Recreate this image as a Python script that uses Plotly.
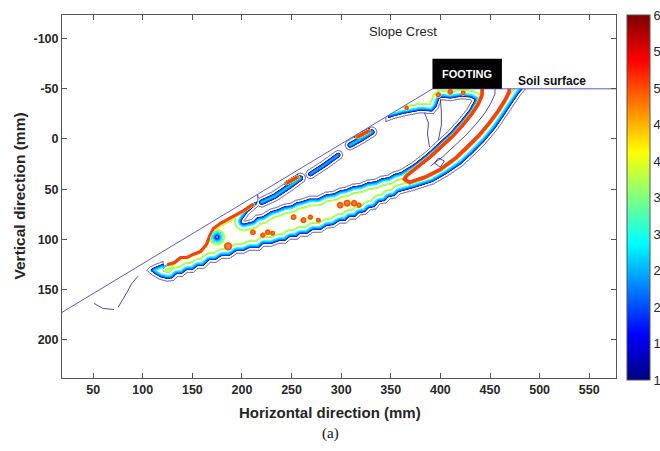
import numpy as np
import plotly.graph_objects as go

# ---------------------------------------------------------------
# Model geometry (mm)
# ---------------------------------------------------------------
ground_x = [10, 392, 590]          # slope face -> crest -> surface
ground_y = [178, -50, -50]
footing_x = [392, 462]
footing_y = [-80, -50]

x_range = [18.6, 577.0]
y_range = [238.3, -123.6]
x_ticks = [50, 100, 150, 200, 250, 300, 350, 400, 450, 500, 550]
y_ticks = [-100, -50, 0, 50, 100, 150, 200]
cbar_ticks = [1.0, 1.5, 2.0, 2.5, 3.0, 3.5, 4.0, 4.5, 5.0, 5.5, 6.0]

# strain level against depth (mm) inside the edge of a localised zone
edge_depth = [-0.6, 0.0, 3.0, 3.4, 5.6, 9.0, 9.3, 9.8, 13.0]
edge_level = [0.0, 1.02, 1.2, 2.3, 3.05, 3.2, 3.95, 4.1, 4.2]

# main shear band, toe to footing edge (outline)
main_band_x = [104, 110, 117, 125, 131, 135, 140, 145, 151, 156, 162, 168, 174, 180,
               188, 195, 202, 208, 218, 222, 230, 238, 244, 249, 256, 259, 266, 272,
               280, 286, 293, 299, 305, 309, 315, 319, 325, 329, 335, 339, 345, 349,
               355, 359, 374, 393, 407, 422, 434, 446, 457, 466, 474, 481, 486, 490,
               434, 434, 432, 427, 418, 408, 397, 385, 372, 359, 352, 347, 340, 334,
               326, 319, 311, 304, 298, 292, 284, 276, 268, 259, 254, 249, 242, 235,
               228, 220, 214, 210, 202, 207, 214, 218, 216, 150, 128, 123, 115, 108]
main_band_y = [131, 136, 140, 142, 141, 137, 137, 133, 133, 129, 129, 123, 123, 119,
               119, 114, 114, 111, 111, 107, 107, 104, 104, 100, 100, 97, 97, 93,
               93, 89, 88, 84, 84, 80, 80, 76, 75, 71, 70, 65, 64, 60,
               59, 55, 51, 45, 37, 27, 16, 4, -9, -22, -34, -44, -50, -66,
               -66, -50, -39, -30, -19, -8, 2, 13, 23, 31, 33, 36, 37, 40,
               41, 44, 45, 48, 49, 52, 53, 57, 57, 60, 61, 64, 65, 68,
               70, 75, 76, 80, 82, 75, 69, 65, 56, 92, 110, 121, 124, 127]

# band under the crest and the footing (outline)
crest_band_x = [345, 352, 364, 380, 393, 398, 401, 410, 422, 430, 436, 448, 452, 343]
crest_band_y = [-17, -20, -23, -26, -25, -31, -39, -38, -40, -39, -36, -29, -70, -70]

# short bands under the slope face (centrelines and half widths)
face1_x, face1_y = [220, 233, 248, 259], [63, 57, 47, 39]
face2_x, face2_y = [269, 283, 297], [35, 26, 16]
face3_x, face3_y = [309, 320, 331], [6, 0, -7]
face_hw = [5.0, 4.6, 5.0]

# peak strain lines
toe_red_x = [125, 132, 138, 144, 150, 158, 164, 167, 171, 178, 191, 202, 211]
toe_red_y = [125, 123, 118, 118, 115, 112, 105, 97, 89, 84, 77, 71, 65]
valley_x = [444, 442, 438, 432, 423, 413, 402, 390, 376, 366, 364, 369, 384, 400,
            415, 427, 438, 449, 458, 465, 469, 470]
valley_y = [-66, -43, -34, -25, -14, -3, 7, 18, 29, 37, 40, 43, 38, 30,
            19, 8, -3, -16, -28, -39, -47, -66]
face_red1_x, face_red1_y = [245, 256], [44, 38]
face_red2_x, face_red2_y = [316, 328], [-2, -8]
red_line_w = [1.3, 1.6, 1.3, 1.3]

# isolated peak spots (centre and radius, mm)
spot_x = [186, 211, 221, 226, 231, 252, 262, 269, 277, 299, 306, 313, 318, 366, 398, 410, 423]
spot_y = [107, 93, 96, 93, 94, 78, 81, 78, 81, 66, 64, 64, 66, -31, -44, -47, -46]
spot_r = [3.4, 2.2, 2.0, 2.2, 1.8, 2.2, 2.4, 2.0, 1.8, 2.6, 2.8, 2.6, 2.0, 1.6, 2.0, 2.2, 1.8]

# unloaded pocket above the toe zigzag
toe_cap_x = [121, 125, 132, 138, 144, 150, 158, 164, 167, 171, 178, 191, 202, 211, 216, 214, 121]
toe_cap_y = [128, 125, 123, 118, 118, 115, 112, 105, 97, 89, 84, 77, 71, 65, 62, 45, 100]
valley_floor = 1.12

# crater inside the band near the toe
ring_x, ring_y = 175, 98
ring_r = [0.0, 1.2, 2.0, 2.3, 5.0, 7.5, 9.0]
ring_level = [0.85, 1.1, 1.2, 2.3, 3.05, 3.6, 20.0]

# lowest contour traced as single lines
wedge1_x, wedge1_y = [384, 388, 387, 389], [-26, -16, -5, 8]
wedge2_x, wedge2_y = [400, 401, 401, 398], [-40, -27, -14, 1]
valley_line_x = [455, 455, 451, 445, 436, 425, 414, 402, 390]
valley_line_y = [-60, -45, -36, -26, -15, -3, 7, 18, 27]
loop_x, loop_y = [394, 398, 404, 400, 394], [24, 19, 22, 28, 24]
toe_line1_x, toe_line1_y = [95, 89, 84, 79, 75], [137, 144, 153, 161, 168]
toe_line2_x, toe_line2_y = [51, 60, 71], [164, 169, 170]

# ---------------------------------------------------------------
# Strain field on a regular grid
# ---------------------------------------------------------------
GX = np.arange(40.0, 545.01, 0.5)
GY = np.arange(-68.0, 182.01, 0.5)
X, Y = np.meshgrid(GX, GY)


def polyline_dist(xs, ys):
    d = np.full(X.shape, np.inf)
    for ax, ay, bx, by in zip(xs[:-1], ys[:-1], xs[1:], ys[1:]):
        vx, vy = bx - ax, by - ay
        L2 = vx * vx + vy * vy
        t = np.clip(((X - ax) * vx + (Y - ay) * vy) / L2, 0, 1) if L2 > 0 else 0.0
        d = np.minimum(d, np.hypot(X - ax - t * vx, Y - ay - t * vy))
    return d


def inside(xs, ys):
    c = np.zeros(X.shape, bool)
    n = len(xs)
    for i in range(n):
        x1, y1, x2, y2 = xs[i], ys[i], xs[i - 1], ys[i - 1]
        if y1 == y2:
            continue
        cross = (y1 > Y) != (y2 > Y)
        xint = x1 + (Y - y1) * (x2 - x1) / (y2 - y1)
        c ^= cross & (X < xint)
    return c


def depth(xs, ys):
    d = polyline_dist(list(xs) + [xs[0]], list(ys) + [ys[0]])
    return np.where(inside(xs, ys), d, -d)


red_lines = [(toe_red_x, toe_red_y), (valley_x, valley_y),
             (face_red1_x, face_red1_y), (face_red2_x, face_red2_y)]

Z = np.zeros(X.shape)
for bx, by in [(main_band_x, main_band_y), (crest_band_x, crest_band_y)]:
    Z = np.maximum(Z, np.interp(depth(bx, by), edge_depth, edge_level))
for (bx, by), hw in zip([(face1_x, face1_y), (face2_x, face2_y), (face3_x, face3_y)], face_hw):
    Z = np.maximum(Z, np.interp(hw - polyline_dist(bx, by), edge_depth, edge_level))
for (rx, ry), w in zip(red_lines, red_line_w):
    Z = np.maximum(Z, np.interp(polyline_dist(rx, ry), [0, w, w + 0.5], [5.25, 5.1, 0.0]))
for sx, sy, r in zip(spot_x, spot_y, spot_r):
    Z = np.maximum(Z, np.interp(np.hypot(X - sx, Y - sy), [0, r, r + 0.5], [5.25, 5.1, 0.0]))

Z = np.minimum(Z, np.interp(depth(toe_cap_x, toe_cap_y), [-0.6, 0.0], [20.0, 0.0]))
Z = np.minimum(Z, np.interp(depth(valley_x, valley_y), [-0.6, 0.0], [20.0, valley_floor]))
Z = np.minimum(Z, np.interp(np.hypot(X - ring_x, Y - ring_y), ring_r, ring_level))
Zf = Z.astype(np.float32)

# ---------------------------------------------------------------
# Figure
# ---------------------------------------------------------------
SANS = "Liberation Sans, Arial, sans-serif"
jet = [[0.0, "rgb(0,0,128)"], [0.125, "rgb(0,0,255)"], [0.375, "rgb(0,255,255)"],
       [0.625, "rgb(255,255,0)"], [0.875, "rgb(255,0,0)"], [1.0, "rgb(128,0,0)"]]
dark = "rgb(60,52,140)"
peak_red = "rgb(240,66,18)"

fig = go.Figure()
# lowest level: thin outer line
fig.add_trace(go.Contour(
    x=GX, y=GY, z=Zf, autocontour=False,
    contours=dict(coloring="none", start=cbar_ticks[0], end=cbar_ticks[0] + 0.1, size=1.0),
    line=dict(width=0.9, color=dark), showscale=False, hoverinfo="skip"))
# remaining levels coloured by value
fig.add_trace(go.Contour(
    x=GX, y=GY, z=Zf, autocontour=False,
    contours=dict(coloring="lines", start=1.25, end=cbar_ticks[-1], size=0.25),
    line=dict(width=1.1), colorscale=jet, zmin=cbar_ticks[0], zmax=cbar_ticks[-1],
    showscale=False, hoverinfo="skip"))

for lx, ly in [(wedge1_x, wedge1_y), (wedge2_x, wedge2_y), (valley_line_x, valley_line_y),
               (loop_x, loop_y), (toe_line1_x, toe_line1_y), (toe_line2_x, toe_line2_y)]:
    fig.add_trace(go.Scatter(x=lx, y=ly, mode="lines", line=dict(color=dark, width=0.9),
                             hoverinfo="skip", showlegend=False))

# peak strain lines and spots
for (rx, ry), w in zip(red_lines, red_line_w):
    fig.add_trace(go.Scatter(x=rx, y=ry, mode="lines",
                             line=dict(color=peak_red, width=2 * w, shape="linear"),
                             hoverinfo="skip", showlegend=False))
fig.add_trace(go.Scatter(x=spot_x, y=spot_y, mode="markers",
                         marker=dict(color=peak_red, size=[2.1 * r for r in spot_r],
                                     line=dict(width=0)),
                         hoverinfo="skip", showlegend=False))

# air above the ground surface
fig.add_trace(go.Scatter(x=ground_x + [ground_x[-1], ground_x[0]],
                         y=ground_y + [-140, -140], fill="toself", fillcolor="white",
                         mode="none", hoverinfo="skip", showlegend=False))
fig.add_trace(go.Scatter(x=ground_x, y=ground_y, mode="lines",
                         line=dict(color="rgb(90,90,205)", width=1),
                         hoverinfo="skip", showlegend=False))

# colour scale
fig.add_trace(go.Scatter(
    x=[None], y=[None], mode="markers", showlegend=False, hoverinfo="skip",
    marker=dict(color=[cbar_ticks[0]], colorscale=jet, cmin=cbar_ticks[0], cmax=cbar_ticks[-1],
                showscale=True,
                colorbar=dict(x=1.0199, xanchor="left", xpad=0, ypad=0, y=1.0, yanchor="top",
                              len=1.006, lenmode="fraction", thickness=23,
                              tickvals=cbar_ticks, ticktext=[f"{v:g}" for v in cbar_ticks],
                              ticks="", outlinewidth=1, outlinecolor="#555555",
                              tickfont=dict(family=SANS, size=13, color="#262626")))))

fig.add_shape(type="rect", x0=footing_x[0], x1=footing_x[1], y0=footing_y[0], y1=footing_y[1],
              xref="x", yref="y", fillcolor="black", line=dict(width=0), layer="above")

axis_common = dict(ticks="inside", ticklen=5, tickwidth=1, tickcolor="#555555",
                   showline=True, linecolor="#555555", linewidth=1, mirror="ticks",
                   showgrid=False, zeroline=False,
                   tickfont=dict(family=SANS, size=12.5, color="#262626", weight="bold"))
fig.update_xaxes(range=x_range, tickvals=x_ticks, ticktext=[str(v) for v in x_ticks], **axis_common)
fig.update_yaxes(range=y_range, tickvals=y_ticks, ticktext=[str(v) for v in y_ticks], **axis_common)

fig.update_layout(
    width=660, height=451, margin=dict(l=62, r=44, t=15, b=73, autoexpand=False),
    paper_bgcolor="white", plot_bgcolor="white", showlegend=False,
    annotations=[
        dict(text="Horizontal direction (mm)", xref="paper", yref="paper", x=0.483, y=-0.0937,
             xanchor="center", yanchor="middle", showarrow=False,
             font=dict(family=SANS, size=15, color="#262626", weight="bold")),
        dict(text="Vertical direction (mm)", xref="paper", yref="paper", x=-0.0776, y=0.5,
             xanchor="center", yanchor="middle", showarrow=False, textangle=-90,
             font=dict(family=SANS, size=15.5, color="#262626", weight="bold")),
        dict(text="(a)", xref="paper", yref="paper", x=0.4838, y=-0.154,
             xanchor="center", yanchor="middle", showarrow=False,
             font=dict(family="Liberation Serif, Times New Roman, serif", size=15, color="#111")),
        dict(text="Slope Crest", xref="x", yref="y", x=362, y=-107, showarrow=False,
             xanchor="center", yanchor="middle",
             font=dict(family=SANS, size=13, color="#262626")),
        dict(text="FOOTING", xref="x", yref="y", x=427, y=-65, showarrow=False,
             xanchor="center", yanchor="middle",
             font=dict(family=SANS, size=11, color="white", weight="bold")),
        dict(text="Soil surface", xref="x", yref="y", x=512, y=-58, showarrow=False,
             xanchor="center", yanchor="middle",
             font=dict(family=SANS, size=12, color="#111", weight="bold")),
    ])

fig.write_html("out.html")
